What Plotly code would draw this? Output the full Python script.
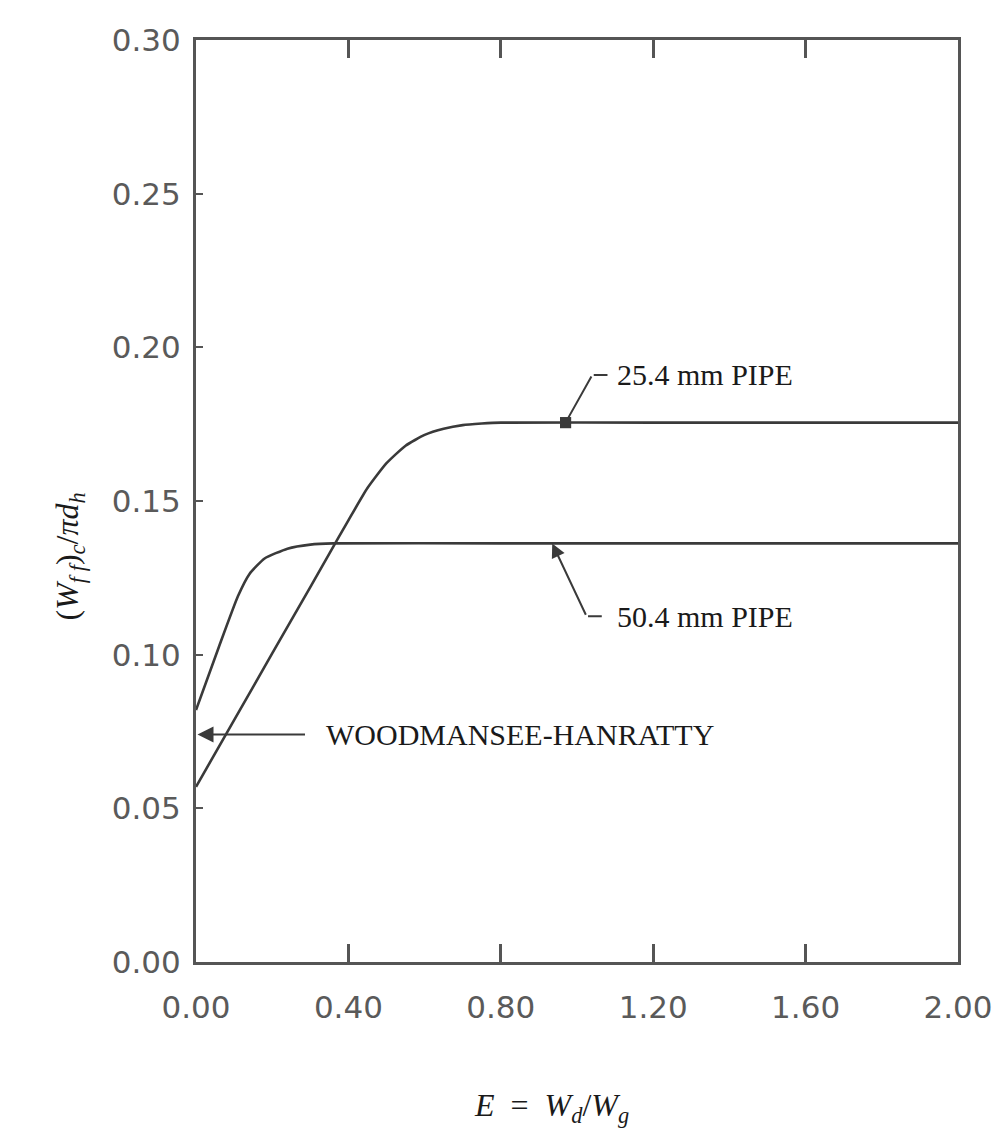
import plotly.graph_objects as go

# ---- data ----
x_254 = [0.0, 0.10, 0.20, 0.30, 0.35, 0.40, 0.45, 0.50, 0.55, 0.60, 0.65, 0.70, 0.75, 0.80, 1.20, 1.60, 2.00]
y_254 = [0.057, 0.0787, 0.1004, 0.122, 0.1329, 0.1437, 0.1542, 0.1623, 0.168, 0.1715, 0.1735, 0.1747, 0.1752, 0.1755, 0.1755, 0.1755, 0.1755]

x_504 = [0.0, 0.06, 0.11, 0.14, 0.18, 0.24, 0.30, 0.36, 0.80, 1.20, 1.60, 2.00]
y_504 = [0.082, 0.1025, 0.119, 0.1262, 0.1313, 0.1345, 0.1358, 0.1362, 0.1362, 0.1362, 0.1362, 0.1362]

x_ticks = [0.0, 0.4, 0.8, 1.2, 1.6, 2.0]
x_ticktext = ["0.00", "0.40", "0.80", "1.20", "1.60", "2.00"]
y_ticks = [0.0, 0.05, 0.10, 0.15, 0.20, 0.25, 0.30]
y_ticktext = ["0.00", "0.05", "0.10", "0.15", "0.20", "0.25", "0.30"]

wh_value = 0.074          # Woodmansee-Hanratty level at E = 0
labels = ["25.4 mm PIPE", "50.4 mm PIPE", "WOODMANSEE-HANRATTY"]

LINE = "#3a3a3a"
AX = "#555555"
TXT = "#1a1a1a"

fig = go.Figure()
fig.add_trace(go.Scatter(x=x_254, y=y_254, mode="lines", name=labels[0],
                         line=dict(color=LINE, width=2.6, shape="spline", smoothing=0.5)))
fig.add_trace(go.Scatter(x=x_504, y=y_504, mode="lines", name=labels[1],
                         line=dict(color=LINE, width=2.6, shape="spline", smoothing=0.5)))

serif = dict(family="Liberation Serif, Times New Roman, serif", size=30, color=TXT)

ann = []
# 25.4 mm PIPE leader
ann.append(dict(x=0.97, y=0.1755, ax=1.04, ay=0.191, xref="x", yref="y", axref="x", ayref="y",
                text="", showarrow=True, arrowhead=7, arrowsize=1.4, arrowwidth=2, arrowcolor=LINE))
ann.append(dict(x=1.08, y=0.191, ax=1.04, ay=0.191, xref="x", yref="y", axref="x", ayref="y",
                text="", showarrow=True, arrowhead=0, arrowwidth=2, arrowcolor=LINE))
ann.append(dict(x=1.10, y=0.191, xref="x", yref="y", text=labels[0], showarrow=False,
                xanchor="left", yanchor="middle", font=serif))
# 50.4 mm PIPE leader
ann.append(dict(x=0.935, y=0.1362, ax=1.025, ay=0.1125, xref="x", yref="y", axref="x", ayref="y",
                text="", showarrow=True, arrowhead=2, arrowsize=1.4, arrowwidth=2, arrowcolor=LINE))
ann.append(dict(x=1.065, y=0.1125, ax=1.025, ay=0.1125, xref="x", yref="y", axref="x", ayref="y",
                text="", showarrow=True, arrowhead=0, arrowwidth=2, arrowcolor=LINE))
ann.append(dict(x=1.10, y=0.1125, xref="x", yref="y", text=labels[1], showarrow=False,
                xanchor="left", yanchor="middle", font=serif))
# Woodmansee-Hanratty
ann.append(dict(x=0.004, y=wh_value, ax=0.29, ay=wh_value, xref="x", yref="y", axref="x", ayref="y",
                text="", showarrow=True, arrowhead=2, arrowsize=1.6, arrowwidth=2, arrowcolor=LINE))
ann.append(dict(x=0.335, y=wh_value, xref="x", yref="y", text=labels[2], showarrow=False,
                xanchor="left", yanchor="middle", font=serif))
# axis titles
ann.append(dict(x=-0.196, y=0.44, xref="paper", yref="paper", showarrow=False, textangle=-90,
                text="(<i>W</i><sub><i>f f</i></sub>)<sub><i>c</i></sub>/<i>πd</i><sub><i>h</i></sub>",
                font=dict(family="Liberation Serif, serif", size=32, color=TXT)))
ann.append(dict(x=0.467, y=-0.182, xref="paper", yref="paper", showarrow=False,
                text="<i>E</i>  =  <i>W</i><sub><i>d</i></sub>/<i>W</i><sub><i>g</i></sub>",
                font=dict(family="Liberation Serif, serif", size=32, color=TXT)))

tickfont = dict(family="DejaVu Sans, sans-serif", size=31, color="#5a5a5a")

fig.update_layout(
    width=1008, height=1141,
    margin=dict(l=188, r=58, t=32, b=187),
    paper_bgcolor="white", plot_bgcolor="white",
    showlegend=False,
    annotations=ann,
    xaxis=dict(range=[0, 2.0], tickvals=x_ticks, ticktext=x_ticktext, ticks="inside", ticklen=18,
               tickwidth=3, tickcolor=AX, showline=True, linecolor=AX, linewidth=3, mirror="ticks",
               showgrid=False, zeroline=False, tickfont=tickfont, ticklabelstandoff=16),
    yaxis=dict(range=[0, 0.30], tickvals=y_ticks, ticktext=y_ticktext, ticks="inside", ticklen=7,
               tickwidth=2, tickcolor=AX, showline=True, linecolor=AX, linewidth=3, mirror=True,
               showgrid=False, zeroline=False, tickfont=tickfont, ticklabelstandoff=6),
)

fig.write_html("out.html")
